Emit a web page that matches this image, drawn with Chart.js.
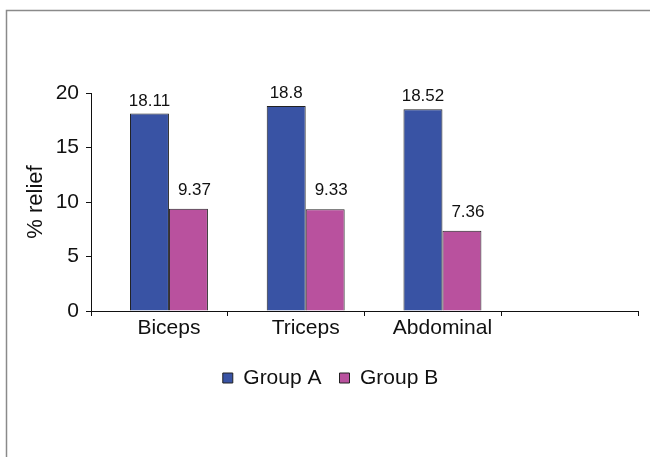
<!DOCTYPE html>
<html><head><meta charset="utf-8">
<script src="https://cdn.jsdelivr.net/npm/chart.js"></script>
<style>html,body{margin:0;padding:0;background:#fff}#wrap{width:650px;height:457px;position:relative}</style>
</head><body><div id="wrap"><canvas id="c" width="650" height="457"></canvas></div>
<script>
const categories = ['Biceps', 'Triceps', 'Abdominal'];
const groupA = [18.11, 18.8, 18.52];
const groupB = [9.37, 9.33, 7.36];
const seriesNames = ['Group A', 'Group B'];
const yMin = 0, yMax = 20, yStep = 5;
const slotCount = 4; // axis has 4 category slots, last one empty

const FONT = '"Liberation Sans", Arial, sans-serif';
Chart.defaults.font.family = FONT;
Chart.defaults.color = '#111';

const frame = {
  id: 'frame',
  beforeDraw(chart) {
    const ctx = chart.ctx;
    ctx.save();
    ctx.strokeStyle = '#8a8a8a';
    ctx.lineWidth = 1.5;
    ctx.beginPath();
    ctx.moveTo(6.5, chart.height + 5);
    ctx.lineTo(6.5, 10.5);
    ctx.lineTo(chart.width + 5, 10.5);
    ctx.stroke();
    ctx.restore();
  }
};

const valueLabels = {
  id: 'valueLabels',
  afterDatasetsDraw(chart) {
    const ctx = chart.ctx;
    ctx.save();
    ctx.font = '17px ' + FONT;
    ctx.fillStyle = '#111';
    ctx.textAlign = 'center';
    ctx.textBaseline = 'alphabetic';
    chart.data.datasets.forEach((ds, di) => {
      const meta = chart.getDatasetMeta(di);
      meta.data.forEach((bar, i) => {
        ctx.fillText(String(ds.data[i].y), bar.x + ds.labelDx, bar.y - ds.labelGap);
      });
    });
    ctx.restore();
  }
};

const toPoints = arr => arr.map((v, i) => ({x: i, y: v}));

new Chart(document.getElementById('c'), {
  type: 'bar',
  data: {
    datasets: [
      {label: seriesNames[0], data: toPoints(groupA), backgroundColor: '#3953A4', borderColor: '#222', borderWidth: 1, labelDx: 0, labelGap: 8, xAxisID: 'x', yAxisID: 'y'},
      {label: seriesNames[1], data: toPoints(groupB), backgroundColor: '#B9519E', borderColor: '#222', borderWidth: 1, labelDx: 6, labelGap: 14, xAxisID: 'x', yAxisID: 'y'}
    ]
  },
  options: {
    responsive: false,
    devicePixelRatio: 1,
    animation: false,
    categoryPercentage: 0.57,
    barPercentage: 1,
    layout: {padding: {top: 93, right: 12, bottom: 58.5, left: 23}},
    plugins: {
      legend: {
        position: 'bottom',
        labels: {boxWidth: 10, boxHeight: 10, padding: 18, color: '#111', font: {size: 21}}
      },
      tooltip: {enabled: false}
    },
    scales: {
      x: {
        type: 'linear', position: 'bottom', weight: 1,
        offset: false, bounds: 'data',
        min: -0.57, max: slotCount - 0.57,
        afterBuildTicks: s => { s.ticks = categories.map((c, i) => ({value: i})); },
        ticks: {callback: v => categories[v] ?? '', font: {size: 21}, color: '#111', padding: 0, maxRotation: 0, autoSkip: false},
        grid: {display: false, drawTicks: false, offset: false},
        border: {display: false},
        afterFit: s => { s.height = 33.5; }
      },
      xt: {
        type: 'linear', position: 'bottom', weight: 0,
        offset: false,
        min: 0, max: slotCount,
        ticks: {display: false, stepSize: 1},
        grid: {drawOnChartArea: false, drawTicks: true, tickLength: 5, color: '#111', lineWidth: 1, offset: false},
        border: {display: true, color: '#111', width: 1}
      },
      y: {
        min: yMin, max: yMax,
        ticks: {stepSize: yStep, font: {size: 21}, color: '#111', padding: 7},
        grid: {drawOnChartArea: false, tickLength: 5, color: '#111'},
        border: {display: true, color: '#111', width: 1},
        title: {display: true, text: '% relief', font: {size: 22}, color: '#111', padding: {top: 0, bottom: 0}},
        afterFit: s => { s.width = 68; }
      }
    }
  },
  plugins: [frame, valueLabels]
});
</script>
</body></html>
